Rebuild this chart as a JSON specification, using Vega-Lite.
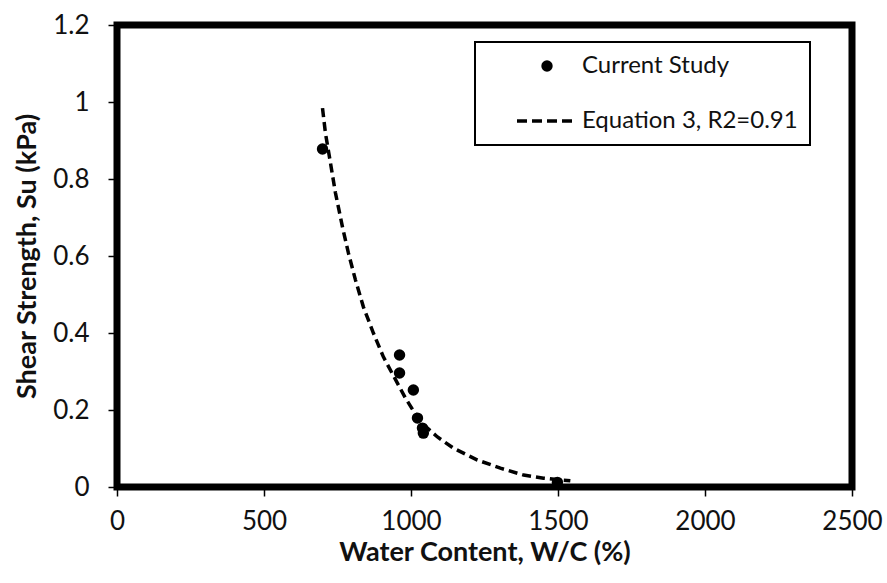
{
  "$schema": "https://vega.github.io/schema/vega-lite/v6.json",
  "autosize": "none",
  "width": 735,
  "height": 462,
  "padding": {"left": 117, "top": 25, "right": 35, "bottom": 96},
  "background": "white",
  "config": {
    "font": "Lato",
    "view": {"stroke": "black", "strokeWidth": 7},
    "axis": {"grid": false, "domain": false, "tickColor": "black", "tickWidth": 1.5, "tickSize": 9,
             "labelFont": "Lato", "labelFontSize": 26, "labelColor": "#111", "labelFlush": false,
             "titleFont": "Lato", "titleFontSize": 27, "titleFontWeight": "bold", "titleColor": "#111"}
  },
  "datasets": {
    "points": [
      {"w": 699, "su": 0.878, "series": "Current Study"},
      {"w": 961, "su": 0.343, "series": "Current Study"},
      {"w": 961, "su": 0.296, "series": "Current Study"},
      {"w": 1008, "su": 0.252, "series": "Current Study"},
      {"w": 1022, "su": 0.179, "series": "Current Study"},
      {"w": 1039, "su": 0.153, "series": "Current Study"},
      {"w": 1042, "su": 0.140, "series": "Current Study"},
      {"w": 1498, "su": 0.012, "series": "Current Study"}
    ],
    "curve": [
      {"w": 699, "su": 0.984, "series": "Equation 3, R2=0.91"},
      {"w": 709, "su": 0.919, "series": "Equation 3, R2=0.91"},
      {"w": 726, "su": 0.842, "series": "Equation 3, R2=0.91"},
      {"w": 743, "su": 0.764, "series": "Equation 3, R2=0.91"},
      {"w": 767, "su": 0.675, "series": "Equation 3, R2=0.91"},
      {"w": 787, "su": 0.608, "series": "Equation 3, R2=0.91"},
      {"w": 811, "su": 0.538, "series": "Equation 3, R2=0.91"},
      {"w": 838, "su": 0.468, "series": "Equation 3, R2=0.91"},
      {"w": 872, "su": 0.400, "series": "Equation 3, R2=0.91"},
      {"w": 906, "su": 0.338, "series": "Equation 3, R2=0.91"},
      {"w": 981, "su": 0.231, "series": "Equation 3, R2=0.91"},
      {"w": 1032, "su": 0.169, "series": "Equation 3, R2=0.91"},
      {"w": 1090, "su": 0.130, "series": "Equation 3, R2=0.91"},
      {"w": 1144, "su": 0.101, "series": "Equation 3, R2=0.91"},
      {"w": 1226, "su": 0.070, "series": "Equation 3, R2=0.91"},
      {"w": 1304, "su": 0.049, "series": "Equation 3, R2=0.91"},
      {"w": 1383, "su": 0.031, "series": "Equation 3, R2=0.91"},
      {"w": 1451, "su": 0.023, "series": "Equation 3, R2=0.91"},
      {"w": 1542, "su": 0.016, "series": "Equation 3, R2=0.91"}
    ]
  },
  "encoding": {
    "x": {"field": "w", "type": "quantitative", "title": "Water Content, W/C (%)",
          "scale": {"domain": [0, 2500], "nice": false, "zero": false},
          "axis": {"values": [0, 500, 1000, 1500, 2000, 2500], "format": "d", "labelPadding": 12, "titlePadding": 5}},
    "y": {"field": "su", "type": "quantitative", "title": "Shear Strength, Su (kPa)",
          "scale": {"domain": [0, 1.2], "nice": false},
          "axis": {"values": [0, 0.2, 0.4, 0.6, 0.8, 1, 1.2], "format": "~g", "labelPadding": 19, "titlePadding": 11}},
    "color": {"field": "series", "type": "nominal",
              "scale": {"domain": ["Current Study", "Equation 3, R2=0.91"], "range": ["black", "black"]},
              "legend": {
                "title": null, "orient": "none", "legendX": 358, "legendY": 17,
                "padding": 12, "symbolOffset": 48, "symbolSize": 130, "labelOffset": 23,
                "rowPadding": 31, "labelFont": "Lato", "labelFontSize": 24, "labelColor": "#111",
                "labelLimit": 500,
                "strokeColor": "black", "fillColor": "white",
                "encode": {
                  "legend": {"update": {"strokeWidth": {"value": 2}, "width": {"value": 345}}},
                  "symbols": {"update": {
                    "shape": {"signal": "datum.value === 'Current Study' ? 'circle' : 'stroke'"},
                    "size": {"signal": "datum.value === 'Current Study' ? 130 : 3600"},
                    "fill": {"signal": "datum.value === 'Current Study' ? 'black' : 'transparent'"},
                    "stroke": {"value": "black"},
                    "strokeWidth": {"signal": "datum.value === 'Current Study' ? 0 : 3.5"},
                    "strokeDash": {"signal": "datum.value === 'Current Study' ? [] : [10, 5]"},
                    "opacity": {"value": 1}
                  }}
                }
              }}
  },
  "layer": [
    {"data": {"name": "curve"},
     "mark": {"type": "line", "strokeWidth": 3.5, "strokeDash": [9, 5]}},
    {"data": {"name": "points"},
     "mark": {"type": "point", "filled": true, "size": 130, "opacity": 1}}
  ]
}
